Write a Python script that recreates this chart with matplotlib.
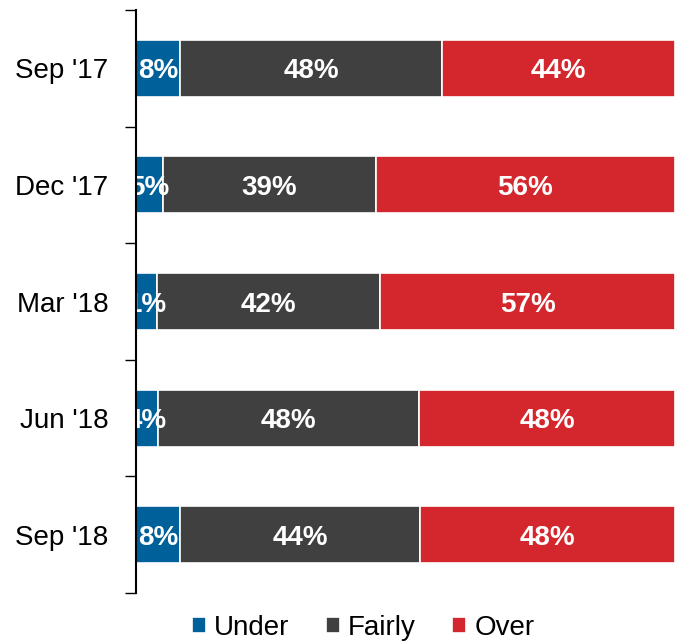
import matplotlib
matplotlib.use("Agg")
import matplotlib.pyplot as plt
import numpy as np

plt.rcParams['font.family'] = ['Liberation Sans', 'DejaVu Sans']

categories = ["Sep '17", "Dec '17", "Mar '18", "Jun '18", "Sep '18"]
under = [8.2, 5.0, 3.9, 4.1, 8.2]
fairly = [48.6, 39.5, 41.4, 48.4, 44.5]
over = [43.2, 55.5, 54.7, 47.5, 47.3]
under_labels = ["8%", "5%", "1%", "4%", "8%"]
fairly_labels = ["48%", "39%", "42%", "48%", "44%"]
over_labels = ["44%", "56%", "57%", "48%", "48%"]
series_names = ["Under", "Fairly", "Over"]
colors = ["#00609A", "#404041", "#D4272D"]

fig = plt.figure(figsize=(6.75, 6.44), dpi=100)
ax = fig.add_axes([136/675, 1-593/644, 1-136/675, (593-10)/644])

y = np.arange(len(categories))
left = np.zeros(len(categories))
for vals, labs, col, name in zip([under, fairly, over],
                                 [under_labels, fairly_labels, over_labels],
                                 colors, series_names):
    bars = ax.barh(y, vals, left=left, height=0.49, color=col,
                   edgecolor="white", linewidth=1.2, label=name)
    for b, lab in zip(bars, labs):
        cx = b.get_x() + b.get_width() / 2
        ax.text(cx, b.get_y() + b.get_height() / 2, lab, ha="center",
                va="center_baseline", color="white", fontsize=20,
                fontweight="bold", clip_on=False, zorder=3)
    left += np.array(vals)

ax.set_xlim(0, 100)
ax.set_ylim(len(categories) - 0.5, -0.5)
ax.set_yticks(y)
ax.set_yticklabels(categories, fontsize=20)
ax.tick_params(axis="y", which="major", length=0, pad=20)
ax.set_yticks(np.arange(-0.5, len(categories)), minor=True)
ax.tick_params(axis="y", which="minor", length=8, width=1, color="black",
               direction="out")
ax.set_xticks([])
for s in ["top", "right", "bottom"]:
    ax.spines[s].set_visible(False)
ax.spines["left"].set_linewidth(1.5)
ax.spines["left"].set_zorder(4)

leg = fig.legend(loc="center", bbox_to_anchor=(0.538, 1 - 628/644), ncol=3,
                 frameon=False, fontsize=20, handlelength=0.5,
                 handleheight=0.5, handletextpad=0.3, columnspacing=1.3,
                 borderpad=0, borderaxespad=0)

fig.savefig("out.png", dpi=100)
